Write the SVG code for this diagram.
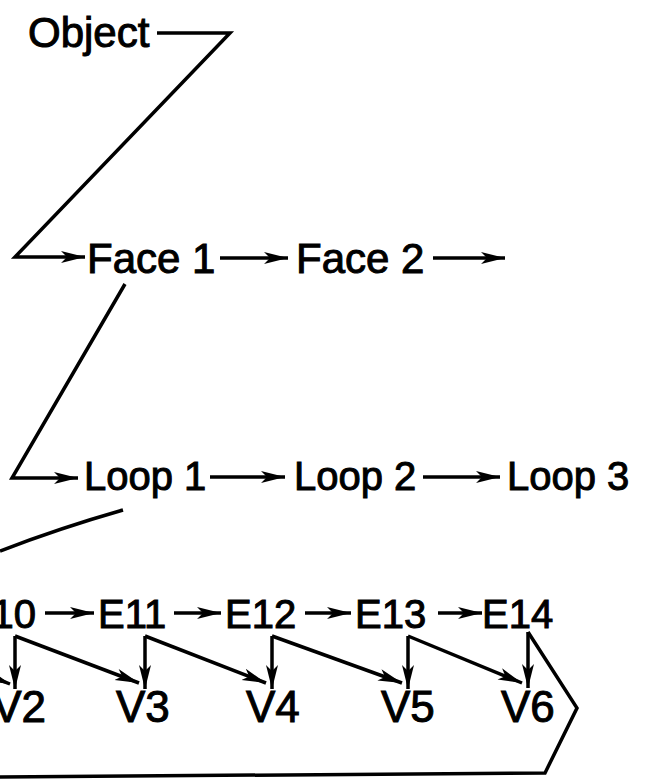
<svg xmlns="http://www.w3.org/2000/svg" width="670" height="783" viewBox="0 0 670 783">
<defs>
<marker id="ah" markerUnits="userSpaceOnUse" markerWidth="26" markerHeight="14" refX="24" refY="7" orient="auto"><path d="M0,1 L24,7 L0,13 L6,7 z" fill="#000"/></marker>
</defs>
<style>
text{font-family:"Liberation Sans",Arial,sans-serif;fill:#000;stroke:#000;stroke-width:1}
.big{font-size:42px}
.loop{font-size:40px}
.e{font-size:40px}
.v{font-size:44px}
.ln{fill:none;stroke:#000;stroke-width:3.5;stroke-linejoin:miter}
.ar{marker-end:url(#ah)}
</style>
<rect width="670" height="783" fill="#fff"/>
<g id="object"><text class="big" x="28" y="47">Object</text></g>
<g id="face1"><text class="big" x="87" y="273">Face 1</text></g>
<g id="face2"><text class="big" x="296" y="273">Face 2</text></g>
<g id="loop1"><text class="loop" x="84" y="490">Loop 1</text></g>
<g id="loop2"><text class="loop" x="294" y="490">Loop 2</text></g>
<g id="loop3"><text class="loop" x="507" y="490">Loop 3</text></g>
<g id="e10"><text class="e" x="36" y="628" text-anchor="end">10</text></g>
<g id="e11"><text class="e" x="98" y="628">E11</text></g>
<g id="e12"><text class="e" x="225" y="628">E12</text></g>
<g id="e13"><text class="e" x="355" y="628">E13</text></g>
<g id="e14"><text class="e" x="482" y="628">E14</text></g>
<g id="v2"><text class="v" x="46" y="722" text-anchor="end">V2</text></g>
<g id="v3"><text class="v" x="116" y="722">V3</text></g>
<g id="v4"><text class="v" x="246" y="722">V4</text></g>
<g id="v5"><text class="v" x="381" y="722">V5</text></g>
<g id="v6"><text class="v" x="501" y="722">V6</text></g>
<g id="connectors">
<path class="ln ar" d="M157,33 L230,33 L15,257 L85,257"/>
<path class="ln ar" d="M220,258 L288,258"/>
<path class="ln ar" d="M433,258 L505,258"/>
<path class="ln ar" d="M125,284 L12,478 L78,478"/>
<path class="ln ar" d="M210,477 L285,477"/>
<path class="ln ar" d="M423,477 L500,477"/>
<path class="ln" d="M123,510 Q60,528 0,551"/>
<path class="ln ar" d="M45,613 L94,613"/>
<path class="ln ar" d="M174,613 L221,613"/>
<path class="ln ar" d="M305,613 L351,613"/>
<path class="ln ar" d="M438,613 L482,613"/>
<path class="ln ar" d="M-110,636 L10,684"/>
<path class="ln ar" d="M15,636 L15,689"/>
<path class="ln ar" d="M15,636 L139,683"/>
<path class="ln ar" d="M145,636 L145,689"/>
<path class="ln ar" d="M145,636 L266,683"/>
<path class="ln ar" d="M272,636 L272,689"/>
<path class="ln ar" d="M272,636 L402,683"/>
<path class="ln ar" d="M408,636 L408,689"/>
<path class="ln ar" d="M408,636 L522,683"/>
<path class="ln ar" d="M528,632 L528,688"/>
<path class="ln" d="M528,632 L577,708 L545,773 L0,777"/>
</g>
</svg>
